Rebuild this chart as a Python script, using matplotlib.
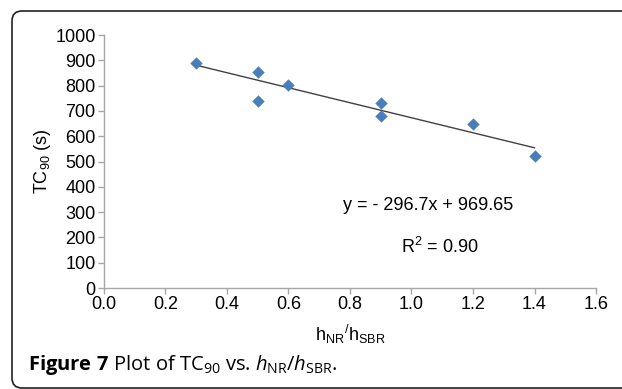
#!/usr/bin/env python3
import matplotlib
matplotlib.use('Agg')
import matplotlib.pyplot as plt
from matplotlib.patches import FancyBboxPatch
import numpy as np

# data
h_ratio = [0.3, 0.5, 0.5, 0.6, 0.9, 0.9, 1.2, 1.4]
tc90 = [890, 852, 740, 803, 730, 681, 647, 523]
slope = -296.7
intercept = 969.65
r_squared = 0.90
x_ticks = [0.0, 0.2, 0.4, 0.6, 0.8, 1.0, 1.2, 1.4, 1.6]
y_ticks = [0, 100, 200, 300, 400, 500, 600, 700, 800, 900, 1000]

plt.rcParams['font.family'] = 'Liberation Sans'
plt.rcParams['mathtext.fontset'] = 'custom'
plt.rcParams['mathtext.rm'] = 'Open Sans'
plt.rcParams['mathtext.it'] = 'Open Sans:italic'
plt.rcParams['mathtext.bf'] = 'Open Sans:bold'

fs = 13

fig = plt.figure(figsize=(6.22, 3.89), dpi=100)
ax = fig.add_axes([0.1672, 0.2596, 0.7910, 0.6504])

ax.scatter(h_ratio, tc90, marker='D', s=40, color='#4a7ebb', zorder=3, linewidths=0)
xfit = np.array([min(h_ratio), max(h_ratio)])
ax.plot(xfit, slope * xfit + intercept, color='#404040', lw=1.0, zorder=2)

ax.set_xlim(0, 1.6)
ax.set_ylim(0, 1000)
ax.set_xticks(x_ticks)
ax.set_xticklabels(['%.1f' % t for t in x_ticks])
ax.set_yticks(y_ticks)
for s in ['top', 'right']:
    ax.spines[s].set_visible(False)
for s in ['left', 'bottom']:
    ax.spines[s].set_color('#a6a6a6')
    ax.spines[s].set_linewidth(1.0)
ax.tick_params(direction='out', length=4, width=1.0, color='#a6a6a6',
               labelsize=fs, labelcolor='black', pad=2)

ax.set_xlabel(r'h$_{\mathregular{NR}}$$^{\mathregular{/}}$h$_{\mathregular{SBR}}$',
              fontsize=fs, labelpad=7)
ax.set_ylabel(r'TC$_{\mathregular{90}}$ (s)', fontsize=fs, labelpad=2)

ax.text(1.054, 328, 'y = - %.1fx + %.2f' % (-slope, intercept),
        fontsize=fs, ha='center', va='center')
ax.text(1.093, 162, r'R$^{\mathregular{2}}$ = %.2f' % r_squared,
        fontsize=fs, ha='center', va='center')

fig.text(28 / 622, 1 - 370 / 389,
         r'$\mathbf{Figure\ 7}$ Plot of TC$_{\mathregular{90}}$ vs. '
         r'$h_{\mathregular{NR}}/h_{\mathregular{SBR}}$.',
         family='Open Sans', fontsize=14.5, ha='left', va='baseline')

border = FancyBboxPatch((12, 1), 700, 377, boxstyle='round,pad=0,rounding_size=10',
                        transform=None, fill=False, edgecolor='#222222',
                        lw=1.2, clip_on=False)
fig.patches.append(border)

fig.savefig('out.png', dpi=100)
